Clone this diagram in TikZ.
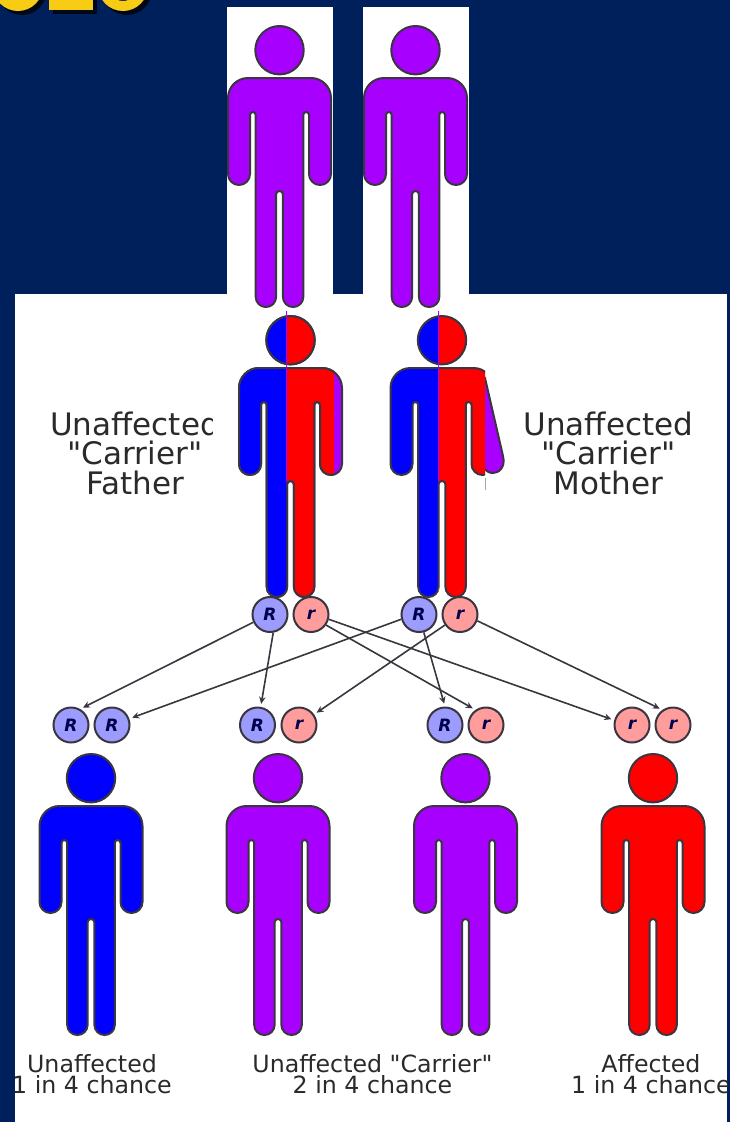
\documentclass[tikz,border=0pt]{standalone}
\usepackage{fontspec}
\setmainfont{DejaVu Sans}[Ligatures=TeXOff]
\newfontfamily\geneface{DejaVu Sans}[BoldItalicFont={DejaVu Sans Bold Oblique}]
\usetikzlibrary{arrows.meta}
\definecolor{slidebg}{HTML}{00205C}
\definecolor{slideyellow}{HTML}{F8CC14}
\definecolor{personpurple}{HTML}{A800FF}
\definecolor{outlinegray}{HTML}{3A3640}
\definecolor{alleleR}{HTML}{9C9CFF}
\definecolor{allelesmall}{HTML}{FF9C9C}
\definecolor{textgray}{HTML}{2A2A2A}
\tikzset{
  personline/.style={draw=outlinegray,line width=2pt,line join=round},
  allele/.style={circle,draw=outlinegray,line width=2pt,minimum size=35pt,inner sep=0pt,
    text=black!70!blue,font=\geneface\fontsize{17}{17}\selectfont\bfseries\itshape},
  domR/.style={allele,fill=alleleR},
  recr/.style={allele,fill=allelesmall},
  gene/.style={draw=outlinegray,line width=1.6pt,-{Stealth[length=7pt,width=6.5pt]}},
  biglabel/.style={align=center,text=textgray,inner sep=0pt,font=\fontsize{31}{29.5}\selectfont},
  smalllabel/.style={align=center,text=textgray,inner sep=0pt,font=\fontsize{23.7}{20.5}\selectfont},
}
% body outline, origin at the centre of the top of the head
\def\bodypath{
  [sharp corners] (0,52) [rounded corners=20pt] -- (51.5,52) -- (51.5,100)
  [rounded corners=11pt] -- (51.5,159) -- (29.5,159) -- (29.5,120)
  [rounded corners=2.9pt] -- (29.5,86) -- (23.8,86) -- (23.8,150)
  [rounded corners=10.1pt] -- (23.8,281) -- (3.4,281) -- (3.4,240)
  [rounded corners=3.3pt] -- (3.4,165) -- (-3.4,165) -- (-3.4,240)
  [rounded corners=10.1pt] -- (-3.4,281) -- (-23.8,281) -- (-23.8,150)
  [rounded corners=2.9pt] -- (-23.8,86) -- (-29.5,86) -- (-29.5,120)
  [rounded corners=11pt] -- (-29.5,159) -- (-51.5,159) -- (-51.5,100)
  [rounded corners=20pt] -- (-51.5,52) -- (-10,52) [sharp corners] -- cycle}
\newcommand{\figperson}[3]{%
  \begin{scope}[shift={(#1,#2)}]
    \draw[personline,fill=#3] (0,24.2) circle (24.2pt);
    \draw[personline,fill=#3] \bodypath;
  \end{scope}}
\begin{document}
\begin{tikzpicture}[x=1pt,y=-1pt]
\useasboundingbox (0,0) rectangle (730,1122);
\fill[slidebg] (0,0) rectangle (730,1122);
% cropped title glyphs
\begin{scope}
  \clip (0,0) rectangle (730,30);
  \foreach \dx/\dy/\col/\op in {4/4/black/0.75,0/0/slideyellow/1}{
    \begin{scope}[shift={(\dx,\dy)},opacity=\op]
      \fill[\col,even odd rule] (18,-14) circle (25pt) (18,-14) circle (14pt);
      \fill[\col] (49,-5) rectangle (93,10);
      \fill[\col,even odd rule] (123,-14) circle (25pt) (123,-14) circle (15pt);
    \end{scope}}
\end{scope}
% white panels
\fill[white] (227,7) rectangle (333,300);
\fill[white] (363,7) rectangle (469,300);
\fill[white] (15,294) rectangle (727,1122);
% parents' parents
\figperson{279.5}{26}{personpurple}
\figperson{415.5}{26}{personpurple}
% father
\figperson{290.5}{316}{personpurple}
\begin{scope}\clip (286.5,300) rectangle (334,610); \figperson{290.5}{316}{red}\end{scope}
\begin{scope}\clip (200,300) rectangle (286.5,610); \figperson{290.5}{316}{blue}\end{scope}
\draw[personpurple,line width=1pt] (286.5,311) -- (286.5,482);
% mother
\begin{scope}
  \clip (485,360) rectangle (520,500);
  \draw[personline,fill=personpurple] (485,378) -- (503,456) .. controls (506,468) and (498,473) .. (493,473) .. controls (489,473) and (486,471) .. (484,468) -- (470,468) -- (470,360) -- cycle;
\end{scope}
\begin{scope}\clip (438.5,300) rectangle (485,610); \figperson{442}{316}{red}\end{scope}
\begin{scope}\clip (350,300) rectangle (438.5,610); \figperson{442}{316}{blue}\end{scope}
\draw[personpurple,line width=1pt] (438.5,311) -- (438.5,482);
\draw[black!35,line width=.6pt] (485.5,478) -- (485.5,490);
% parent labels
\begin{scope}
  \clip (15,390) rectangle (212,510);
  \node[biglabel] (flabel) at (135,453) {Unaffected\\"Carrier"\\Father};
\end{scope}
\node[biglabel] (mlabel) at (608.5,453) {Unaffected\\"Carrier"\\Mother};
% parental alleles
\node[domR] (fR) at (270,614.5) {R};
\node[recr] (fr) at (311,614.5) {r};
\node[domR] (mR) at (419,614.5) {R};
\node[recr] (mr) at (460,614.5) {r};
% child alleles
\node[domR] (a1) at (71,725) {R};
\node[domR] (a2) at (112,725) {R};
\node[domR] (b1) at (257.5,725) {R};
\node[recr] (b2) at (299,725) {r};
\node[domR] (c1) at (445,725) {R};
\node[recr] (c2) at (486,725) {r};
\node[recr] (d1) at (632,725) {r};
\node[recr] (d2) at (673,725) {r};
% connectors
\begin{scope}[every path/.append style={shorten >=3pt}]
\draw[gene] (fR.205) -- (a1.60);
\draw[gene] (fR.280) -- (b1.80);
\draw[gene] (fr.345) -- (d1.165);
\draw[gene] (fr.325) -- (c2.125);
\draw[gene] (mR.195) -- (a2.20);
\draw[gene] (mR.285) -- (c1.90);
\draw[gene] (mr.215) -- (b2.35);
\draw[gene] (mr.340) -- (d2.125);
\end{scope}
% children
\figperson{91}{754}{blue}
\figperson{278}{754}{personpurple}
\figperson{465.5}{754}{personpurple}
\figperson{653}{754}{red}
% child labels
\begin{scope}
  \clip (15,1040) rectangle (727,1110);
  \node[smalllabel] (l1) at (92,1074) {Unaffected\\1 in 4 chance};
  \node[smalllabel] (l2) at (372.5,1074) {Unaffected "Carrier"\\2 in 4 chance};
  \node[smalllabel] (l3) at (651,1074) {Affected\\1 in 4 chance};
\end{scope}
\end{tikzpicture}
\end{document}
